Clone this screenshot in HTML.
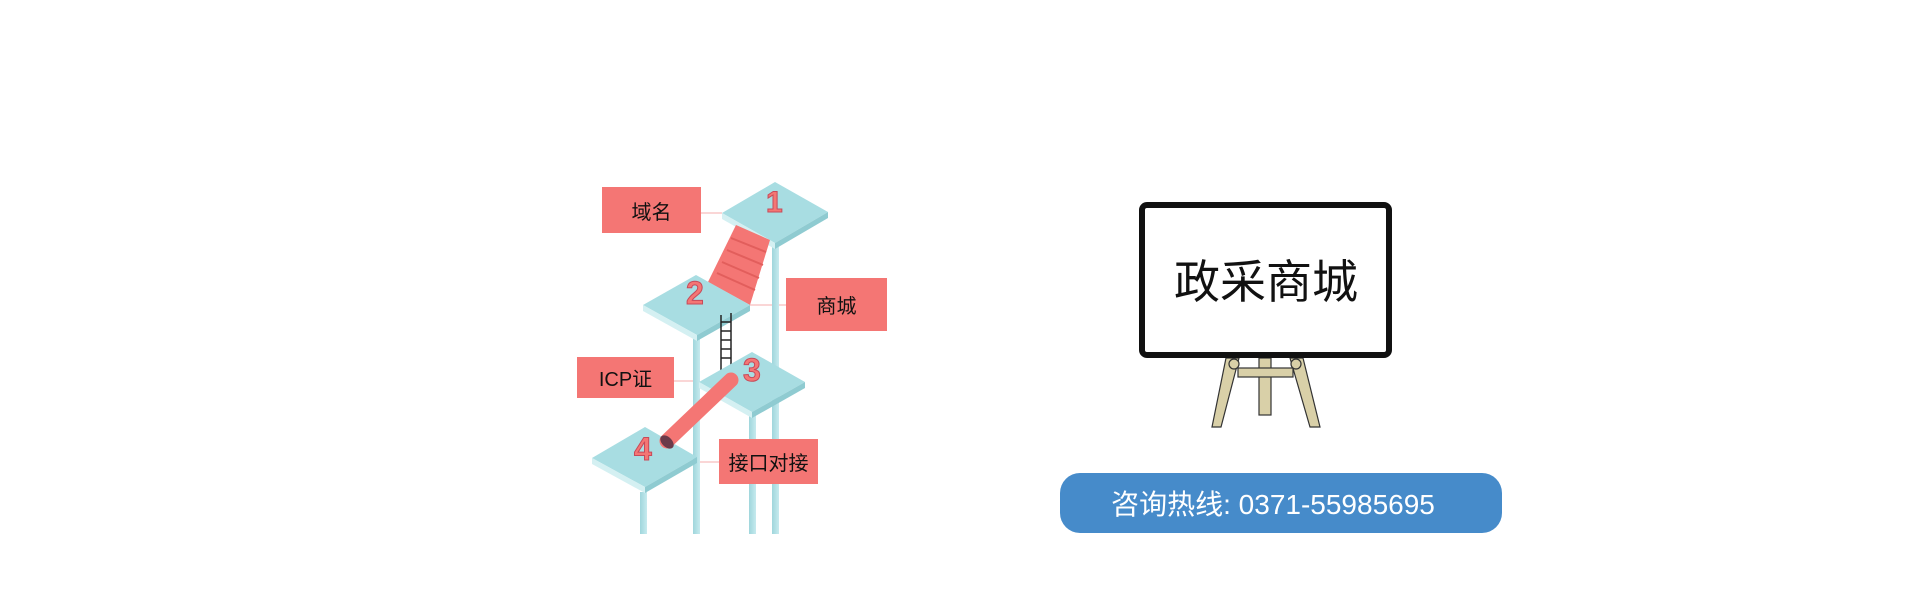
<!DOCTYPE html>
<html><head><meta charset="utf-8"><style>
html,body{margin:0;padding:0;background:#fff;}
body{width:1927px;height:592px;position:relative;overflow:hidden;font-family:"Liberation Sans","Noto Sans CJK SC",sans-serif;}
.lbl{position:absolute;background:#f47674;color:#111;font-size:20px;display:flex;align-items:center;justify-content:center;font-family:"Liberation Sans","Noto Sans CJK SC",sans-serif;}
</style></head><body>
<svg width="1927" height="592" style="position:absolute;left:0;top:0">
<defs>
<linearGradient id="pole" x1="0" x2="1"><stop offset="0" stop-color="#9fd6dc"/><stop offset="1" stop-color="#c6eaee"/></linearGradient>
</defs>
<g stroke="#f8c9c8" stroke-width="1.5">
<line x1="701" y1="213" x2="722" y2="213"/>
<line x1="750" y1="305" x2="786" y2="305"/>
<line x1="674" y1="381" x2="699" y2="381"/>
<line x1="697" y1="462" x2="719" y2="462"/>
</g>
<rect x="772" y="247" width="7" height="287" fill="url(#pole)"/>
<rect x="693" y="337" width="7" height="197" fill="url(#pole)"/>
<rect x="749" y="413" width="7" height="121" fill="url(#pole)"/>
<rect x="640" y="492" width="7" height="42" fill="url(#pole)"/>
<g>
<polygon points="722,213 775,182 828,212 775,243" fill="#a8dde2"/>
<polygon points="722,213 775,243 775,249 722,219" fill="#d4f0f2"/>
<polygon points="775,243 828,212 828,218 775,249" fill="#8fcbd1"/>
</g>
<polygon points="736,225 770,240 750,305 708,282" fill="#f47674"/>
<g stroke="#e25e5c" stroke-width="2">
<line x1="731" y1="238" x2="766" y2="252"/><line x1="727" y1="250" x2="763" y2="265"/>
<line x1="722" y1="262" x2="759" y2="278"/><line x1="717" y1="273" x2="755" y2="290"/>
</g>
<g>
<polygon points="643,305 696,275 750,305 697,335" fill="#a8dde2"/>
<polygon points="643,305 697,335 697,341 643,311" fill="#d4f0f2"/>
<polygon points="697,335 750,305 750,311 697,341" fill="#8fcbd1"/>
</g>
<g stroke="#222" stroke-width="1.5">
<line x1="721" y1="315" x2="721" y2="370"/><line x1="731" y1="313" x2="731" y2="368"/>
<line x1="721" y1="322" x2="731" y2="322"/><line x1="721" y1="331" x2="731" y2="331"/>
<line x1="721" y1="340" x2="731" y2="340"/><line x1="721" y1="349" x2="731" y2="349"/>
<line x1="721" y1="358" x2="731" y2="358"/>
</g>
<g>
<polygon points="699,382 752,352 805,382 752,412" fill="#a8dde2"/>
<polygon points="699,382 752,412 752,418 699,388" fill="#d4f0f2"/>
<polygon points="752,412 805,382 805,388 752,418" fill="#8fcbd1"/>
</g>
<g>
<polygon points="592,458 645,427 697,457 645,487" fill="#a8dde2"/>
<polygon points="592,458 645,487 645,493 592,464" fill="#d4f0f2"/>
<polygon points="645,487 697,457 697,463 645,493" fill="#8fcbd1"/>
</g>
<line x1="731" y1="380" x2="667" y2="441" stroke="#f47674" stroke-width="15" stroke-linecap="round"/>
<ellipse cx="667" cy="442" rx="5" ry="8" transform="rotate(-45 667 442)" fill="#6b3a4a"/>
<g font-family="Liberation Sans,sans-serif" font-weight="bold" fill="#f47674" stroke="#c74a5a" stroke-width="1">
<text x="766" y="212" font-size="30">1</text>
<text x="686" y="304" font-size="32">2</text>
<text x="743" y="381" font-size="32">3</text>
<text x="634" y="460" font-size="32">4</text>
</g>
<g stroke="#333" stroke-width="1.2" fill="#d9d0a8">
<polygon points="1226,358 1239,358 1221,427 1212,427"/>
<polygon points="1290,358 1303,358 1320,427 1310,427"/>
<rect x="1259" y="358" width="12" height="57"/>
<rect x="1238" y="368" width="55" height="9"/>
<circle cx="1234" cy="364" r="5"/><circle cx="1296" cy="364" r="5"/>
</g>
<rect x="1142" y="205" width="247" height="150" rx="5" fill="#fff" stroke="#111" stroke-width="6"/>
<text x="1266" y="298" text-anchor="middle" font-size="46" font-family="Liberation Sans,Noto Sans CJK SC,sans-serif" fill="#111">政采商城</text>
<rect x="1060" y="473" width="442" height="60" rx="20" fill="#468bca"/>
<text x="1273" y="514" text-anchor="middle" font-size="28" font-family="Liberation Sans,Noto Sans CJK SC,sans-serif" fill="#fff">咨询热线: 0371-55985695</text>
</svg>
<div class="lbl" style="left:602px;top:187px;width:99px;height:46px;">域名</div>
<div class="lbl" style="left:786px;top:278px;width:101px;height:53px;">商城</div>
<div class="lbl" style="left:577px;top:357px;width:97px;height:41px;">ICP证</div>
<div class="lbl" style="left:719px;top:439px;width:99px;height:45px;">接口对接</div>
</body></html>
